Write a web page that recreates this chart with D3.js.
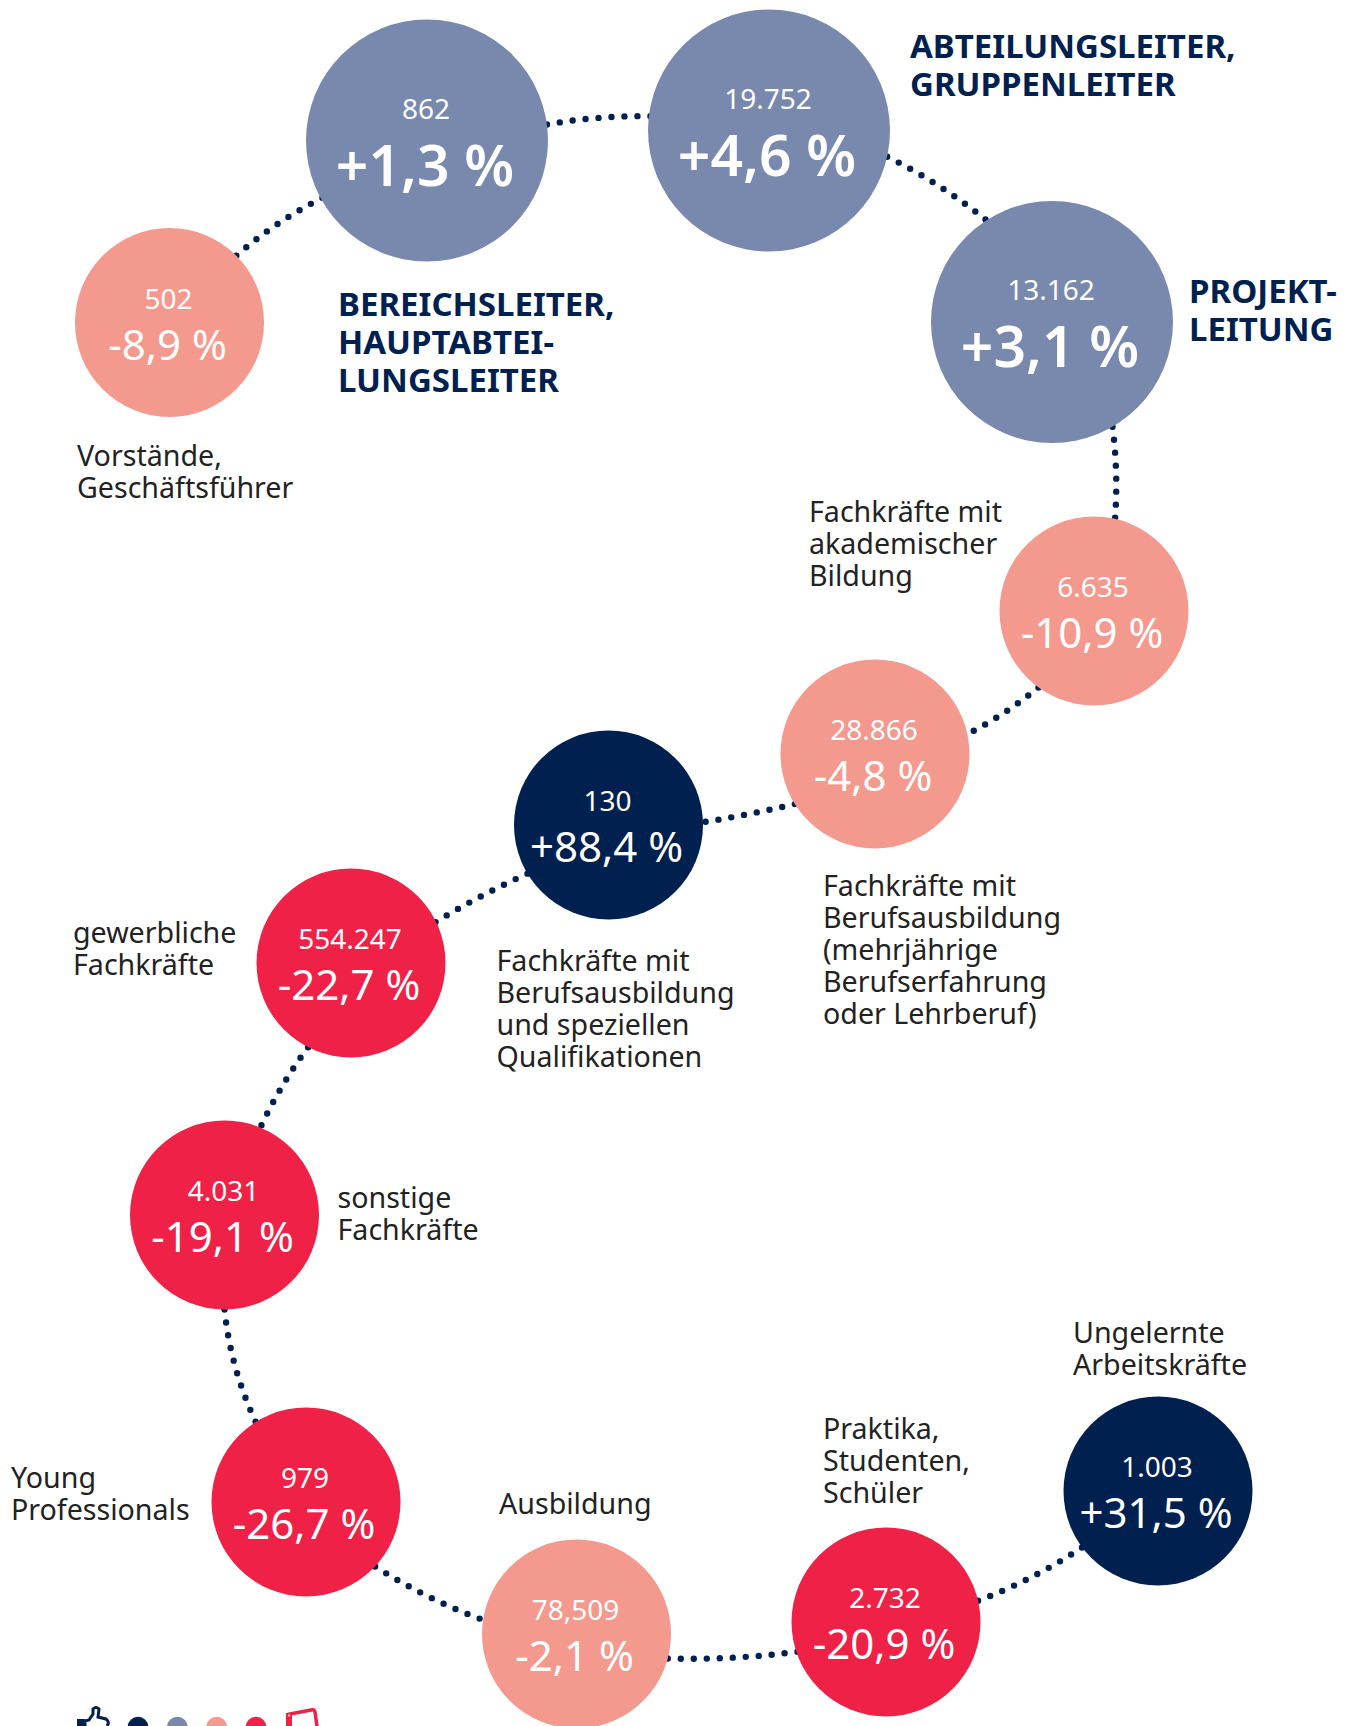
<!DOCTYPE html>
<html>
<head>
<meta charset="utf-8">
<script src="https://cdn.jsdelivr.net/npm/d3@7"></script>
<style>
  html, body { margin: 0; padding: 0; background: #fff; overflow: hidden; }
  svg { display: block; font-family: "Noto Sans", "Open Sans", sans-serif; }
</style>
</head>
<body>
<div id="chart"></div>
<script>
// data, in path order
var names = ["vorstand", "bereich", "abteilung", "projekt", "akademisch", "beruf", "speziell",
  "gewerblich", "sonstige", "young", "ausbildung", "praktika", "ungelernt"];
var counts = ["502", "862", "19.752", "13.162", "6.635", "28.866", "130",
  "554.247", "4.031", "979", "78,509", "2.732", "1.003"];
var changes = ["-8,9 %", "+1,3 %", "+4,6 %", "+3,1 %", "-10,9 %", "-4,8 %", "+88,4 %",
  "-22,7 %", "-19,1 %", "-26,7 %", "-2,1 %", "-20,9 %", "+31,5 %"];
// rating: 0 best ... 3 worst, same order as the legend
var ratings = [2, 1, 1, 1, 2, 2, 0, 3, 3, 3, 2, 3, 0];
var labels = [
  ["Vorstände,", "Geschäftsführer"],
  ["BEREICHSLEITER,", "HAUPTABTEI-", "LUNGSLEITER"],
  ["ABTEILUNGSLEITER,", "GRUPPENLEITER"],
  ["PROJEKT-", "LEITUNG"],
  ["Fachkräfte mit", "akademischer", "Bildung"],
  ["Fachkräfte mit", "Berufsausbildung", "(mehrjährige", "Berufserfahrung", "oder Lehrberuf)"],
  ["Fachkräfte mit", "Berufsausbildung", "und speziellen", "Qualifikationen"],
  ["gewerbliche", "Fachkräfte"],
  ["sonstige", "Fachkräfte"],
  ["Young", "Professionals"],
  ["Ausbildung"],
  ["Praktika,", "Studenten,", "Schüler"],
  ["Ungelernte", "Arbeitskräfte"]
];
var legendRatings = [0, 1, 2, 3];

// layout, not data
var width = 1358, height = 1726;
var layoutX = [169.5, 427, 769, 1052, 1094, 875, 608.5, 351, 224.5, 306, 576.5, 886, 1158];
var layoutY = [322.5, 140.5, 130.5, 322, 611, 754, 825, 963, 1215, 1502, 1634, 1622, 1491];
var labelX = [77, 338, 910, 1189, 809, 823, 496.5, 73, 337.5, 11, 499, 823, 1073];
var labelY = [466, 316, 58, 303, 522, 895.5, 970.5, 943, 1207.5, 1487.5, 1513.5, 1438.5, 1343];
// where each dotted link leaves / reaches its circles (degrees) and how far it bows
var linkOut = [-45, -7.6, 12.5, 60, 126, 148, 149, 117, 90, 43, 15, -13];
var linkIn = [151, -172.6, -120.8, -76, -10, -0.6, -25, -68, -123, -173, 160, 143];
var linkBend = [-4, -3, -4, -3, -3, -1, 2, 3, 6, 4, 3, 4];

var x = d3.scaleOrdinal().domain(names).range(layoutX);
var y = d3.scaleOrdinal().domain(names).range(layoutY);
var color = d3.scaleOrdinal().domain([0, 1, 2, 3]).range(["#00214f", "#7889ad", "#f4998d", "#ef2147"]);

// the four management levels get the big circles and bold labels
var isBig = function(i){ return i >= 1 && i <= 3; };

var svg = d3.select("#chart").append("svg")
  .attr("width", width)
  .attr("height", height);

// Dotted links, drawn first so the circles cover the first and last dot.
// The end runs on under the next circle so the dots reach its edge.
var links = d3.pairs(names).map(function(p, i){
  var r0 = isBig(i) ? 121 : 94.5;
  var r1 = (isBig(i + 1) ? 121 : 94.5) - 12;
  var a0 = linkOut[i] * Math.PI / 180, a1 = linkIn[i] * Math.PI / 180;
  var x0 = x(p[0]) + r0 * Math.cos(a0), y0 = y(p[0]) + r0 * Math.sin(a0);
  var x1 = x(p[1]) + r1 * Math.cos(a1), y1 = y(p[1]) + r1 * Math.sin(a1);
  var dx = x1 - x0, dy = y1 - y0, len = Math.sqrt(dx * dx + dy * dy);
  var bend = linkBend[i] * 2;
  var path = d3.path();
  path.moveTo(x0, y0);
  path.quadraticCurveTo((x0 + x1) / 2 - dy / len * bend, (y0 + y1) / 2 + dx / len * bend, x1, y1);
  return path.toString();
});

svg.append("g").selectAll("path")
  .data(links)
  .enter().append("path")
  .attr("d", function(d){ return d; })
  .style("fill", "none")
  .style("stroke", "#00214f")
  .style("stroke-width", 6.4)
  .style("stroke-linecap", "round")
  .style("stroke-dasharray", "0 13");

// Circles with the two values
var nodes = svg.append("g").selectAll("g")
  .data(names)
  .enter().append("g")
  .attr("transform", function(d){ return "translate(" + x(d) + "," + y(d) + ")"; });

nodes.append("circle")
  .attr("r", function(d, i){ return isBig(i) ? 121 : 94.5; })
  .style("fill", function(d, i){ return color(ratings[i]); });

nodes.append("text")
  .attr("x", -1)
  .attr("y", function(d, i){ return isBig(i) ? -22 : -14; })
  .style("text-anchor", "middle")
  .style("fill", "#fff")
  .style("font-size", "28px")
  .text(function(d, i){ return counts[i]; });

nodes.append("text")
  .attr("x", -2)
  .attr("y", function(d, i){ return isBig(i) ? 45 : 37; })
  .style("text-anchor", "middle")
  .style("fill", "#fff")
  .style("font-weight", function(d, i){ return isBig(i) ? 600 : 400; })
  .style("font-size", function(d, i){ return isBig(i) ? "57px" : "42px"; })
  .text(function(d, i){ return changes[i]; });

// Labels next to the circles
svg.append("g").selectAll("text")
  .data(names)
  .enter().append("text")
  .attr("x", function(d, i){ return labelX[i]; })
  .attr("y", function(d, i){ return labelY[i]; })
  .style("fill", function(d, i){ return isBig(i) ? "#00214f" : "#222"; })
  .style("font-weight", function(d, i){ return isBig(i) ? 700 : 400; })
  .style("font-size", function(d, i){ return isBig(i) ? "33px" : "28.6px"; })
  .each(function(d, i){
    d3.select(this).selectAll("tspan")
      .data(labels[i])
      .enter().append("tspan")
      .attr("x", labelX[i])
      .attr("dy", function(t, j){ return j == 0 ? 0 : (isBig(i) ? 38 : 32); })
      .text(function(t){ return t; });
  });

// Legend at the bottom edge, cut off by the page like in the original
var legendX = d3.scalePoint().domain(legendRatings).range([138, 256]);
svg.append("g").selectAll("circle")
  .data(legendRatings)
  .enter().append("circle")
  .attr("cx", function(d){ return legendX(d); })
  .attr("cy", 1727)
  .attr("r", 10.3)
  .style("fill", function(d){ return color(d); });

// thumb up
svg.append("path")
  .attr("d", "M85 1726 L85 1721 L89 1720 L93 1714 L93 1709 Q96 1706 99 1709 L98 1717 L106 1719 Q110 1722 107 1726")
  .style("fill", "none")
  .style("stroke", "#00214f")
  .style("stroke-width", 3);
svg.append("rect")
  .attr("x", 77).attr("y", 1719).attr("width", 8).attr("height", 7)
  .style("fill", "#00214f");

// thumb down
svg.append("path")
  .attr("d", "M290 1726 L290 1714 L311 1710 Q314 1709 315 1712 L317 1726")
  .style("fill", "none")
  .style("stroke", "#ef2147")
  .style("stroke-width", 3.5);
svg.append("rect")
  .attr("x", 286).attr("y", 1713).attr("width", 6).attr("height", 13)
  .style("fill", "#ef2147");
svg.append("circle")
  .attr("cx", 289).attr("cy", 1715.5).attr("r", 1)
  .style("fill", "#fff");
</script>
</body>
</html>
